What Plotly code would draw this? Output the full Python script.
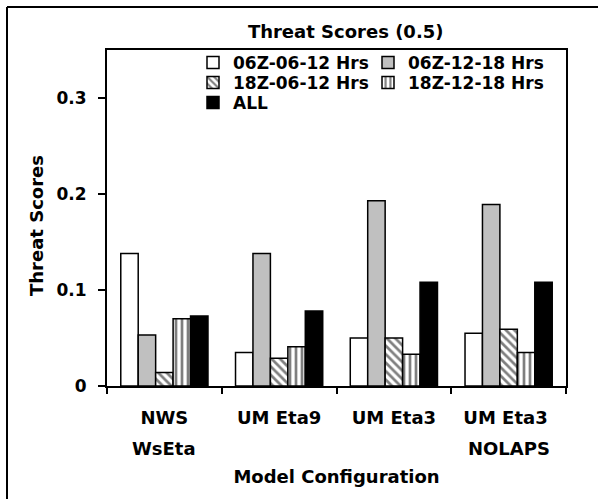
import plotly.graph_objects as go

categories = ["NWS", "UM Eta9", "UM Eta3", "UM Eta3 "]
second_lines = ["WsEta", "", "", "NOLAPS"]
series_names = ["06Z-06-12 Hrs", "06Z-12-18 Hrs", "18Z-06-12 Hrs", "18Z-12-18 Hrs", "ALL"]
s_06z_06_12 = [0.138, 0.035, 0.050, 0.055]
s_06z_12_18 = [0.053, 0.138, 0.193, 0.189]
s_18z_06_12 = [0.014, 0.029, 0.050, 0.059]
s_18z_12_18 = [0.070, 0.041, 0.033, 0.035]
s_all = [0.073, 0.078, 0.108, 0.108]
y_ticks = [0, 0.1, 0.2, 0.3]
y_tick_text = ["0", "0.1", "0.2", "0.3"]

values = [s_06z_06_12, s_06z_12_18, s_18z_06_12, s_18z_12_18, s_all]
fills = ["white", "#c0c0c0", "white", "white", "black"]
patterns = ["", "", "\\", "|", ""]
legend_ids = ["legend", "legend2", "legend3", "legend4", "legend5"]

FONT = "DejaVu Sans"
# plot area in pixels
L, R, T, B = 107, 566, 50, 386
PW, PH = R - L, B - T

def px_x(x):
    return (x - L) / PW

def px_y(y):
    return (B - y) / PH

fig = go.Figure()
for name, vals, fc, pat, lg in zip(series_names, values, fills, patterns, legend_ids):
    marker = dict(color=fc, line=dict(color="black", width=1.5))
    if pat:
        marker["pattern"] = dict(shape=pat, fgcolor="black", bgcolor="white",
                                 size=6, solidity=0.45, fillmode="overlay")
    fig.add_trace(go.Bar(x=categories, y=vals, name=name, marker=marker, legend=lg,
                         showlegend=True))

for cat, line2 in zip(categories, second_lines):
    if line2:
        fig.add_annotation(x=cat, xref="x", y=0, yref="y", yshift=-62,
                           text=line2, showarrow=False, yanchor="middle",
                           font=dict(family=FONT, size=18, color="black", weight="bold"))

# y-axis title
fig.add_annotation(text="Threat Scores", textangle=-90, showarrow=False,
                   xref="paper", yref="paper", x=px_x(36), y=px_y(226),
                   xanchor="center", yanchor="middle",
                   font=dict(family=FONT, size=18, color="black", weight="bold"))

# outer frame (left and top edges only; the picture is cropped at right and bottom)
fig.add_shape(type="line", xref="paper", yref="paper",
              x0=px_x(7), x1=px_x(7), y0=px_y(499), y1=px_y(7),
              line=dict(color="black", width=2), layer="above")
fig.add_shape(type="line", xref="paper", yref="paper",
              x0=px_x(7), x1=px_x(598), y0=px_y(7), y1=px_y(7),
              line=dict(color="black", width=2), layer="above")

legend_font = dict(family=FONT, size=17, color="black", weight="bold")
legend_pos = {
    "legend": (193, 63), "legend2": (368, 63),
    "legend3": (193, 83), "legend4": (368, 83),
    "legend5": (193, 103),
}
layout_legends = {}
for lid, (lx, ly) in legend_pos.items():
    layout_legends[lid] = dict(x=px_x(lx), y=px_y(ly), xanchor="left", yanchor="middle",
                               bgcolor="rgba(0,0,0,0)", font=legend_font,
                               itemclick=False, itemdoubleclick=False)

fig.update_layout(
    width=598, height=499,
    margin=dict(l=L, r=598 - R, t=T, b=499 - B),
    paper_bgcolor="white", plot_bgcolor="white",
    barmode="group", bargap=0.24, bargroupgap=0,
    showlegend=True,
    title=dict(text="Threat Scores (0.5)", x=0.52, xref="paper", xanchor="center",
               y=1 - 32 / 499, yref="container", yanchor="middle",
               font=dict(family=FONT, size=18, color="black", weight="bold")),
    font=dict(family=FONT, color="black"),
    **layout_legends,
)
fig.update_xaxes(
    showline=True, linecolor="black", linewidth=2, mirror=True,
    ticks="outside", ticklen=6, tickwidth=1.5, tickcolor="black", tickson="boundaries",
    ticklabelstandoff=14,
    tickfont=dict(family=FONT, size=18, color="black", weight="bold"),
    title=dict(text="Model Configuration", standoff=44,
               font=dict(family=FONT, size=18, color="black", weight="bold")),
    showgrid=False,
)
fig.update_yaxes(
    range=[0, 0.35], tickvals=y_ticks, ticktext=y_tick_text,
    showline=True, linecolor="black", linewidth=2, mirror=True,
    ticks="outside", ticklen=7, tickwidth=1.5, tickcolor="black",
    ticklabelstandoff=8,
    tickfont=dict(family=FONT, size=17, color="black", weight="bold"),
    showgrid=False, zeroline=False,
)
fig.write_html("out.html")
